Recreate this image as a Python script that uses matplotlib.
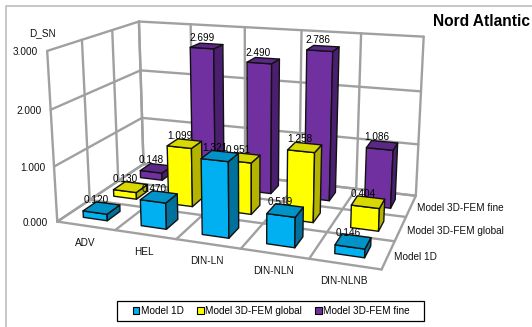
import numpy as np
import matplotlib
matplotlib.use("Agg")
import matplotlib.pyplot as plt
from matplotlib.patches import Patch, Rectangle
from matplotlib.collections import PolyCollection

plt.rcParams['font.family'] = ['Liberation Sans', 'DejaVu Sans']

categories = ["ADV", "HEL", "DIN-LN", "DIN-NLN", "DIN-NLNB"]
series_names = ["Model 1D", "Model 3D-FEM global", "Model 3D-FEM fine"]
values_1d = [0.120, 0.470, 1.321, 0.519, 0.146]
values_global = [0.130, 1.099, 0.951, 1.258, 0.404]
values_fine = [0.148, 2.699, 2.490, 2.786, 1.086]
z_ticks = [0, 1, 2, 3]
y_label = "D_SN"
title = "Nord Atlantic"

front_colors = ["#00B0F0", "#FFFF00", "#7030A0"]
side_colors = ["#00719C", "#B3B300", "#4A1F70"]
top_colors = ["#0093C8", "#D9D900", "#5C2888"]
GRID = "#A0A0A0"
BAR_W, BAR_D = 0.42, 0.42

# Camera calibration: box corners (category, series, value) and their pixel positions.
box_corners = np.array([[0, 0, 0], [5, 0, 0], [5, 3, 0], [0, 3, 0],
                        [0, 0, 3], [0, 3, 3], [5, 3, 3]], float)
box_pixels = np.array([[57, 222], [381, 270], [416, 195], [144, 164],
                       [48, 50], [138, 22], [424, 37]], float)


def fit_camera(world, image):
    rows, rhs = [], []
    for (x, y, z), (u, v) in zip(world, image):
        rows.append([x, y, z, 1, 0, 0, 0, 0, -u * x, -u * y, -u * z])
        rows.append([0, 0, 0, 0, x, y, z, 1, -v * x, -v * y, -v * z])
        rhs += [u, v]
    p = np.linalg.lstsq(np.array(rows), np.array(rhs), rcond=None)[0]
    return np.append(p, 1).reshape(3, 4)


CAM = fit_camera(box_corners, box_pixels)


def proj(x, y, z):
    q = CAM @ np.array([x, y, z, 1.0])
    return q[0] / q[2], q[1] / q[2]


fig = plt.figure(figsize=(5.32, 3.27), dpi=100)
ax = fig.add_axes([0, 0, 1, 1])
ax.set_xlim(0, 532)
ax.set_ylim(327, 0)
ax.axis("off")

# Outer chart frame
ax.plot([6, 6, 532], [327, 5.5, 5.5], color="#BDBDBD", lw=1.2, zorder=1)


def seg(a, b, lw=1.7):
    p, q = proj(*a), proj(*b)
    ax.plot([p[0], q[0]], [p[1], q[1]], color=GRID, lw=lw, zorder=2,
            solid_capstyle="round")


# Side wall, back wall and floor grid
for z in z_ticks:
    seg((0, 0, z), (0, 3, z))
    seg((0, 3, z), (5, 3, z))
for y in range(4):
    seg((0, y, 0), (0, y, 3))
    seg((0, y, 0), (5, y, 0))
for x in range(6):
    seg((x, 3, 0), (x, 3, 3))
    seg((x, 0, 0), (x, 3, 0))

# Bars, back row first so nearer ones overlap them
table = [values_1d, values_global, values_fine]
z = 5
for s in (2, 1, 0):
    for i, v in enumerate(table[s]):
        x0, x1 = i + 0.5 - BAR_W / 2, i + 0.5 + BAR_W / 2
        y0, y1 = s + 0.5 - BAR_D / 2, s + 0.5 + BAR_D / 2
        faces = [
            [proj(x0, y0, 0), proj(x1, y0, 0), proj(x1, y0, v), proj(x0, y0, v)],
            [proj(x1, y0, 0), proj(x1, y1, 0), proj(x1, y1, v), proj(x1, y0, v)],
            [proj(x0, y0, v), proj(x1, y0, v), proj(x1, y1, v), proj(x0, y1, v)],
        ]
        ax.add_collection(PolyCollection(
            faces, facecolors=[front_colors[s], side_colors[s], top_colors[s]],
            edgecolors="#111111", linewidths=1.0, zorder=z))
        z += 1

# Value labels sit over the top face of each bar
for s in range(3):
    for i, v in enumerate(table[s]):
        px, py = proj(i + 0.5, s + 0.5, v)
        ax.text(px - 5, py - 8, f"{v:.3f}", fontsize=7.2, ha="center",
                va="center", color="black", zorder=100)

# Value axis tick labels
for t in z_ticks:
    px, py = proj(0, 0, t)
    ax.text(px - 9, py + 1, f"{t:.3f}", fontsize=7.2, ha="right", va="center",
            color="#111111", zorder=100)
ax.text(42, 33, y_label, fontsize=7.2, ha="center", va="center", color="#111111")

# Category and series axis labels
for i, c in enumerate(categories):
    px, py = proj(i + 0.5, 0, 0)
    ax.text(px - 1, py + 17, c, fontsize=7.2, ha="center", va="center", color="#111111")
for s, name in enumerate(series_names):
    px, py = proj(5, s + 0.5, 0)
    ax.text(px + 6, py + 2, name, fontsize=7.2, ha="left", va="center", color="#111111")

ax.text(530, 21, title, fontsize=11.2, fontweight="bold", ha="right", va="center",
        color="black")

# Legend strip along the bottom
ax.add_patch(Rectangle((117, 301), 307, 20, facecolor="white", edgecolor="black",
                       linewidth=0.9, zorder=100))
handles = [Patch(facecolor=c, edgecolor="black", linewidth=0.8) for c in front_colors]
leg = ax.legend(handles, series_names, ncol=3, loc="center",
                bbox_to_anchor=(271.5, 311), bbox_transform=ax.transData,
                fontsize=7.2, frameon=False, handlelength=0.62, handleheight=0.7,
                handletextpad=0.15, columnspacing=1.35, borderpad=0, borderaxespad=0)
leg.set_zorder(101)

fig.savefig("out.png", dpi=100)
